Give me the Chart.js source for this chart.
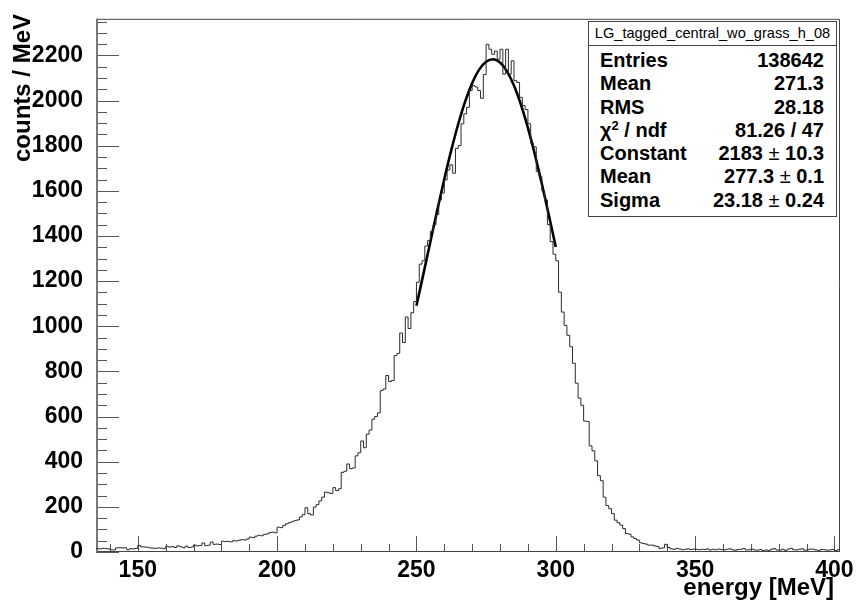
<!DOCTYPE html>
<html>
<head>
<meta charset="utf-8">
<script src="https://cdn.jsdelivr.net/npm/chart.js@4.4.0/dist/chart.umd.min.js"></script>
<style>
  html, body { margin: 0; padding: 0; background: #fff; }
  #wrap { position: relative; width: 856px; height: 608px; }
  #stats {
    position: absolute; left: 588px; top: 21px; width: 249px; height: 196px;
    box-sizing: border-box; border: 1px solid #444; background: #fff;
    font-family: "Liberation Sans", Arial, sans-serif; color: #000;
  }
  #stats .head {
    height: 23px; line-height: 23px; border-bottom: 1px solid #444;
    text-align: center; font-size: 14.6px;
  }
  #stats .row {
    height: 23.3px; line-height: 23.3px; font-size: 20px; font-weight: bold;
    padding: 0 12px 0 11px; display: flex; justify-content: space-between;
  }
  #stats .rows { padding-top: 3px; }
  #stats .pm { font-weight: normal; }
  #stats sup { font-size: 13px; line-height: 0; vertical-align: 7px; font-weight: bold; }
</style>
</head>
<body>
<div id="wrap">
  <canvas id="histo" width="856" height="608"></canvas>
  <div id="stats"></div>
</div>
<script>
// histogram: 1 MeV bins starting at 135 MeV
const binLow = 135;
const binWidth = 1;
const counts = [
  15, 14, 16, 15, 14, 10, 9, 18, 19, 18,
  19, 10, 15, 14, 16, 29, 23, 22, 21, 18,
  17, 16, 18, 17, 15, 25, 22, 24, 20, 27,
  23, 19, 26, 20, 22, 30, 27, 29, 40, 28,
  30, 44, 34, 35, 33, 48, 46, 47, 45, 50,
  49, 52, 55, 53, 58, 66, 64, 70, 74, 72,
  78, 80, 86, 88, 85, 110, 108, 118, 125, 130,
  134, 139, 142, 155, 165, 196, 170, 164, 199, 210,
  226, 243, 265, 262, 259, 285, 272, 280, 353, 358,
  390, 369, 372, 426, 440, 492, 462, 522, 540, 588,
  600, 616, 715, 722, 782, 755, 760, 870, 880, 970,
  928, 1041, 990, 1060, 1110, 1195, 1275, 1290, 1355, 1380,
  1420, 1450, 1495, 1560, 1590, 1648, 1692, 1715, 1678, 1788,
  1800, 1897, 1941, 1970, 2044, 2066, 2060, 2044, 2010, 2115,
  2249, 2227, 2205, 2219, 2183, 2227, 2117, 2227, 2117, 2176,
  2088, 2080, 2014, 1978, 1960, 1897, 1810, 1795, 1685, 1663,
  1600, 1560, 1450, 1375, 1319, 1290, 1151, 1063, 1004, 960,
  909, 836, 748, 682, 650, 580, 578, 470, 448, 404,
  338, 316, 243, 206, 192, 170, 141, 130, 119, 104,
  82, 79, 67, 60, 53, 41, 38, 35, 30, 31,
  27, 25, 16, 18, 34, 20, 14, 12, 16, 13,
  10, 12, 14, 11, 13, 12, 10, 12, 11, 14,
  9, 12, 10, 13, 11, 9, 12, 14, 10, 8,
  11, 12, 16, 9, 10, 13, 9, 8, 11, 6,
  9, 7, 12, 15, 9, 8, 12, 7, 13, 16,
  10, 9, 12, 14, 8, 10, 13, 12, 9, 7,
  11, 10, 8, 9, 11, 6, 10
];

// gaussian fit curve
const fitEnergy = [250, 252.5, 255, 257.5, 260, 262.5, 265, 267.5, 270, 272.5, 275, 277.5,
                   280, 282.5, 285, 287.5, 290, 292.5, 295, 297.5, 300];
const fitCounts = [1091, 1232, 1374, 1516, 1652, 1780, 1896, 1996, 2077, 2137, 2172, 2183,
                   2168, 2129, 2066, 1982, 1879, 1761, 1631, 1493, 1351];

const xTickValues = [150, 200, 250, 300, 350, 400];
const yTickValues = [0, 200, 400, 600, 800, 1000, 1200, 1400, 1600, 1800, 2000, 2200];

const statTitle = 'LG_tagged_central_wo_grass_h_08';
const statNames = ['Entries', 'Mean', 'RMS', 'χ<sup>2</sup> / ndf', 'Constant', 'Mean', 'Sigma'];
const statValues = ['138642', '271.3', '28.18', '81.26 / 47',
                    '2183 <span class="pm">±</span> 10.3',
                    '277.3 <span class="pm">±</span> 0.1',
                    '23.18 <span class="pm">±</span> 0.24'];

const FONT = '"Liberation Sans", Arial, Helvetica, sans-serif';

// step outline: one point per bin low edge, plus the last high edge
const histPoints = counts.map((c, i) => ({ x: binLow + i * binWidth, y: c }));
histPoints.push({ x: binLow + counts.length * binWidth, y: counts[counts.length - 1] });

const fitPoints = fitEnergy.map((e, i) => ({ x: e, y: fitCounts[i] }));

const rootFrame = {
  id: 'rootFrame',
  beforeDatasetsDraw(chart) {
    const { ctx, chartArea: a, scales: { x, y } } = chart;
    ctx.save();
    ctx.strokeStyle = '#555';
    ctx.lineWidth = 1;
    ctx.beginPath();
    for (let v = 0; v <= y.max; v += 50) {
      const py = Math.round(y.getPixelForValue(v)) + 0.5;
      const len = v % 200 === 0 ? 23 : 11;
      ctx.moveTo(a.left, py);
      ctx.lineTo(a.left + len, py);
    }
    for (let v = 140; v <= x.max; v += 10) {
      const px = Math.round(x.getPixelForValue(v)) + 0.5;
      const len = v % 50 === 0 ? 16 : 8;
      ctx.moveTo(px, a.bottom);
      ctx.lineTo(px, a.bottom - len);
    }
    ctx.stroke();
    // frame
    ctx.strokeStyle = '#444';
    ctx.beginPath();
    ctx.moveTo(a.left, a.top + 0.5);
    ctx.lineTo(a.right - 0.5, a.top + 0.5);
    ctx.lineTo(a.right - 0.5, a.bottom);
    ctx.moveTo(a.left, a.bottom - 0.5);
    ctx.lineTo(a.right, a.bottom - 0.5);
    ctx.stroke();
    ctx.strokeStyle = '#777';
    ctx.lineWidth = 2;
    ctx.beginPath();
    ctx.moveTo(a.left + 1, a.top);
    ctx.lineTo(a.left + 1, a.bottom);
    ctx.stroke();
    ctx.restore();
  },
  afterDraw(chart) {
    const { ctx } = chart;
    ctx.save();
    ctx.fillStyle = '#000';
    ctx.font = 'bold 24px ' + FONT;
    ctx.textAlign = 'right';
    ctx.textBaseline = 'alphabetic';
    ctx.fillText('energy [MeV]', 834, 595);
    ctx.translate(30, 14);
    ctx.rotate(-Math.PI / 2);
    ctx.fillText('counts / MeV', 0, 0);
    ctx.restore();
  }
};

new Chart(document.getElementById('histo'), {
  type: 'line',
  data: {
    datasets: [
      {
        label: 'histogram',
        data: histPoints,
        stepped: true,
        borderColor: '#2a2a2a',
        borderWidth: 1,
        pointRadius: 0,
        fill: false
      },
      {
        label: 'fit',
        data: fitPoints,
        borderColor: '#000',
        borderWidth: 2.6,
        pointRadius: 0,
        cubicInterpolationMode: 'monotone',
        fill: false
      }
    ]
  },
  options: {
    responsive: false,
    animation: false,
    devicePixelRatio: 1,
    layout: { autoPadding: false, padding: { top: 14, right: 16, left: 0, bottom: 0 } },
    plugins: { legend: { display: false }, tooltip: { enabled: false } },
    scales: {
      x: {
        type: 'linear',
        min: 135,
        max: 402,
        grid: { display: false },
        border: { display: false },
        afterFit: (scale) => { scale.height = 56; },
        afterBuildTicks: (scale) => { scale.ticks = xTickValues.map(v => ({ value: v })); },
        ticks: {
          padding: -3,
          maxRotation: 0,
          autoSkip: false,
          color: '#000',
          font: { family: FONT, size: 23, weight: 'bold' },
          callback: (v) => String(v)
        }
      },
      y: {
        type: 'linear',
        min: 0,
        max: 2362,
        grid: { display: false },
        border: { display: false },
        afterFit: (scale) => { scale.width = 96; },
        afterBuildTicks: (scale) => { scale.ticks = yTickValues.map(v => ({ value: v })); },
        ticks: {
          padding: 5,
          autoSkip: false,
          color: '#000',
          font: { family: FONT, size: 23, weight: 'bold' },
          callback: (v) => String(v)
        }
      }
    }
  },
  plugins: [rootFrame]
});

// stats box
let html = '<div class="head">' + statTitle + '</div><div class="rows">';
statNames.forEach((n, i) => {
  html += '<div class="row"><span>' + n + '</span><span>' + statValues[i] + '</span></div>';
});
html += '</div>';
document.getElementById('stats').innerHTML = html;
</script>
</body>
</html>
